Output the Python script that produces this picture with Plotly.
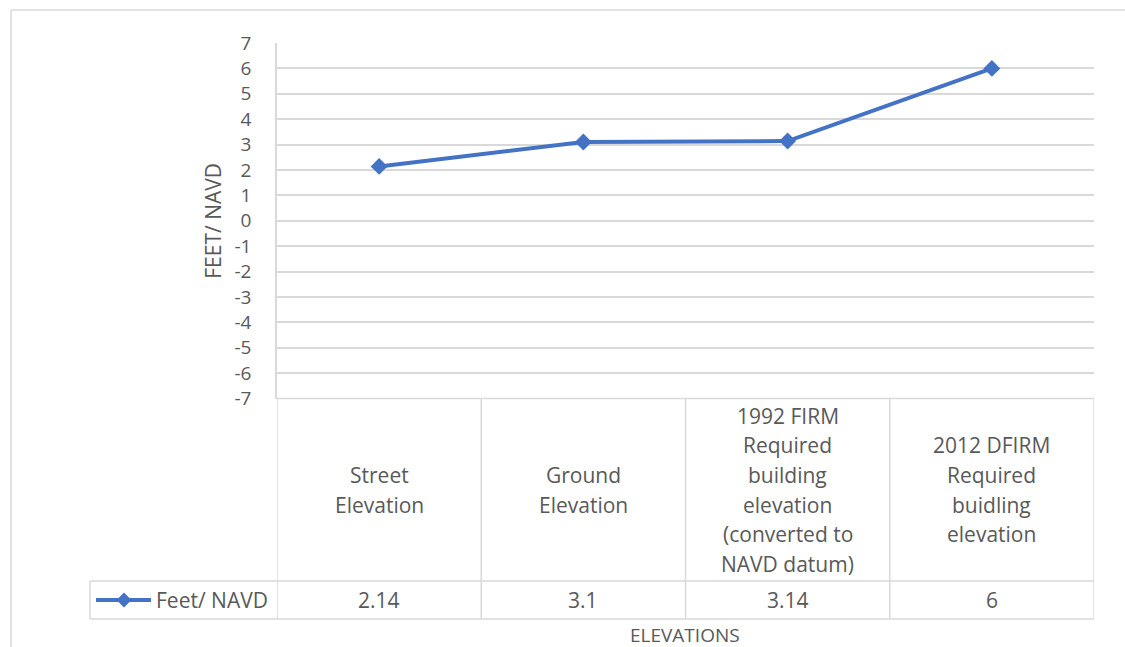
import plotly.graph_objects as go

# ---- data ----
categories = [
    "Street\nElevation",
    "Ground\nElevation",
    "1992 FIRM\nRequired\nbuilding\nelevation\n(converted to\nNAVD datum)",
    "2012 DFIRM\nRequired\nbuidling\nelevation",
]
values = [2.14, 3.1, 3.14, 6]
series_name = "Feet/ NAVD"
y_ticks = list(range(-7, 8))
y_title = "FEET/ NAVD"
x_title = "ELEVATIONS"

# ---- layout constants (pixels) ----
W, H = 1125, 647
PL, PR = 277, 1094          # plot area left/right
PT, PB = 43, 398.5          # plot area top/bottom (y=7 .. y=-7)
ROW1, ROW2 = 581, 619       # table row boundaries
LEG_L = 90
GRID = "#D9D9D9"
TXT = "#595959"
BLUE = "#4472C4"
FONT = "Open Sans"
FS = 21


def px(x):
    return x / W


def py(y):
    return 1 - y / H


n = len(categories)
xs = list(range(n))

fig = go.Figure()
fig.add_trace(go.Scatter(
    x=xs, y=values, mode="lines+markers", name=series_name,
    line=dict(color=BLUE, width=4),
    marker=dict(symbol="diamond", size=13, color=BLUE),
    showlegend=False,
))

shapes = []
ann = []


def hline(x0, x1, y, xref="paper"):
    shapes.append(dict(type="line", xref=xref, yref="paper", x0=x0, x1=x1,
                       y0=py(y), y1=py(y), line=dict(color=GRID, width=1.5)))


def vline(x, y0, y1, xref="paper"):
    shapes.append(dict(type="line", xref=xref, yref="paper", x0=x, x1=x,
                       y0=py(y0), y1=py(y1), line=dict(color=GRID, width=1.5)))


# outer chart border (left & top)
vline(px(11), 10, H + 5)
hline(px(11), px(W + 5), 10)

# table grid
hline(-0.5, n - 0.5, PB, xref="x")
hline(px(LEG_L), px(PL), ROW1)
hline(px(LEG_L), px(PL), ROW2)
hline(-0.5, n - 0.5, ROW1, xref="x")
hline(-0.5, n - 0.5, ROW2, xref="x")
for i in range(n + 1):
    vline(i - 0.5, PB, ROW2, xref="x")
vline(px(LEG_L), ROW1, ROW2)

# header text, line by line
HEAD_C = (PB + ROW1) / 2
LS = 29.6
for i, cat in enumerate(categories):
    lines = cat.split("\n")
    m = len(lines)
    for j, t in enumerate(lines):
        yc = HEAD_C + (j - (m - 1) / 2) * LS
        ann.append(dict(xref="x", yref="paper", x=i, y=py(yc), text=t,
                        showarrow=False, xanchor="center", yanchor="middle",
                        font=dict(family=FONT, size=FS, color=TXT)))

# value row
VAL_C = (ROW1 + ROW2) / 2
for i, v in enumerate(values):
    ann.append(dict(xref="x", yref="paper", x=i, y=py(VAL_C), text=f"{v:g}",
                    showarrow=False, xanchor="center", yanchor="middle",
                    font=dict(family=FONT, size=FS, color=TXT)))

# legend key in table
shapes.append(dict(type="line", xref="paper", yref="paper", x0=px(96), x1=px(151),
                   y0=py(VAL_C), y1=py(VAL_C), line=dict(color=BLUE, width=4)))
cx, cy, r = 124, VAL_C, 7.5
shapes.append(dict(type="path", xref="paper", yref="paper",
                   path=f"M {px(cx - r)},{py(cy)} L {px(cx)},{py(cy - r)} L {px(cx + r)},{py(cy)} L {px(cx)},{py(cy + r)} Z",
                   fillcolor=BLUE, line=dict(color=BLUE, width=0)))
ann.append(dict(xref="paper", yref="paper", x=px(154), y=py(VAL_C), text=series_name,
                showarrow=False, xanchor="left", yanchor="middle",
                font=dict(family=FONT, size=FS, color=TXT)))

# axis titles
ann.append(dict(xref="paper", yref="paper", x=px(213), y=py((PT + PB) / 2), text=y_title,
                textangle=-90, showarrow=False, xanchor="center", yanchor="middle",
                font=dict(family=FONT, size=FS, color=TXT)))
ann.append(dict(xref="paper", yref="paper", x=px((PL + PR) / 2), y=py(635), text=x_title,
                showarrow=False, xanchor="center", yanchor="middle", borderpad=0,
                font=dict(family=FONT, size=FS - 2, color=TXT)))

fig.update_layout(
    width=W, height=H,
    margin=dict(l=0, r=0, t=0, b=0, autoexpand=False),
    paper_bgcolor="white", plot_bgcolor="white",
    showlegend=False,
    shapes=shapes, annotations=ann,
    xaxis=dict(domain=[px(PL), px(PR)], range=[-0.5, n - 0.5], showticklabels=False,
               showgrid=False, zeroline=False, showline=False, ticks="", automargin=False),
    yaxis=dict(domain=[py(PB), py(PT)], range=[-7, 7], tickvals=y_ticks,
               ticktext=[str(t) for t in y_ticks], showgrid=True, gridcolor=GRID,
               gridwidth=1.5, zeroline=False, showline=True, linecolor=GRID, linewidth=1.5,
               ticks="", ticklabelstandoff=20, automargin=False,
               tickfont=dict(family=FONT, size=19, color=TXT)),
)

fig.write_html("out.html")
